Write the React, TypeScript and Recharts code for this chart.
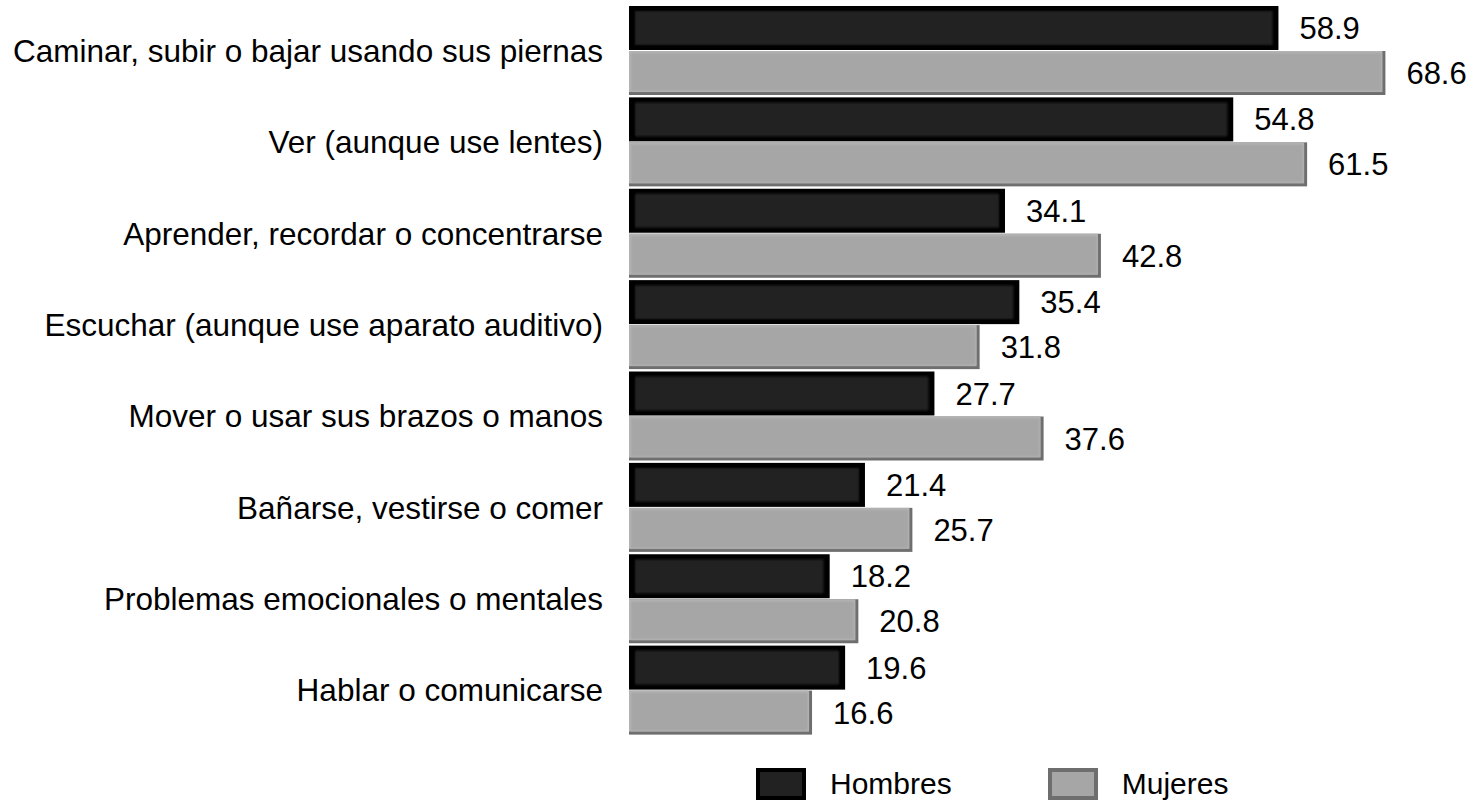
import { BarChart, Bar, XAxis, YAxis, Legend, LabelList } from 'recharts';

const categories = [
  'Caminar, subir o bajar usando sus piernas',
  'Ver (aunque use lentes)',
  'Aprender, recordar o concentrarse',
  'Escuchar (aunque use aparato auditivo)',
  'Mover o usar sus brazos o manos',
  'Bañarse, vestirse o comer',
  'Problemas emocionales o mentales',
  'Hablar o comunicarse',
];
const hombres = [58.9, 54.8, 34.1, 35.4, 27.7, 21.4, 18.2, 19.6];
const mujeres = [68.6, 61.5, 42.8, 31.8, 37.6, 25.7, 20.8, 16.6];

const seriesNames = ['Hombres', 'Mujeres'];
const seriesColors = ['#222222', '#a6a6a6'];

const data = categories.map((name, i) => ({
  name,
  Hombres: hombres[i],
  Mujeres: mujeres[i],
}));

const FONT = 'Liberation Sans, Arial, sans-serif';

// barra negra con borde oscuro
function DarkBar(props: any) {
  const { x, y, width, height } = props;
  if (!width || width <= 0) return null;
  return (
    <g>
      <rect x={x} y={y} width={width} height={height} fill="#000" />
      <rect x={x + 6} y={y + 5} width={Math.max(width - 12, 0)} height={height - 10} fill="#222" filter="url(#soft)" />
    </g>
  );
}

// barra gris con sombra abajo/derecha
function GrayBar(props: any) {
  const { x, y, width, height } = props;
  if (!width || width <= 0) return null;
  return (
    <g>
      <rect x={x} y={y} width={width} height={height} fill="#6e6e6e" />
      <rect x={x} y={y} width={width - 3} height={height - 3} fill="#b4b4b4" />
      <rect x={x + 2} y={y + 2} width={Math.max(width - 6, 0)} height={height - 6} fill="#a6a6a6" filter="url(#soft)" />
    </g>
  );
}

function LegendContent() {
  return (
    <div
      style={{
        display: 'flex',
        alignItems: 'center',
        boxSizing: 'border-box',
        height: 72,
        paddingTop: 30,
        paddingBottom: 6,
        paddingLeft: 756,
        fontFamily: FONT,
        fontSize: 30,
      }}
    >
      {seriesNames.map((n, i) => (
        <div key={n} style={{ display: 'flex', alignItems: 'center', marginRight: i === 0 ? 96 : 0 }}>
          <svg width={50} height={32} style={{ marginRight: 24 }}>
            <rect x={0} y={0} width={50} height={32} fill={i === 0 ? '#000' : '#6e6e6e'} />
            <rect x={4} y={4} width={42} height={24} fill={seriesColors[i]} />
          </svg>
          <span>{n}</span>
        </div>
      ))}
    </div>
  );
}

export default function App() {
  return (
    <div style={{ position: 'absolute', left: 0, top: 0, width: 1473, height: 808, background: '#fff' }}>
      <BarChart
        width={1473}
        height={808}
        data={data}
        layout="vertical"
        margin={{ top: 5, right: 6, left: 0, bottom: 0 }}
        barSize={44}
        barGap={1}
      >
        <defs>
          <filter id="soft" x="-5%" y="-20%" width="110%" height="140%">
            <feGaussianBlur stdDeviation="1.2" />
          </filter>
        </defs>
        <XAxis type="number" domain={[0, 76]} hide />
        <YAxis
          type="category"
          dataKey="name"
          width={629}
          axisLine={false}
          tickLine={false}
          tickSize={0}
          tickMargin={26}
          tick={{ fill: '#000', fontSize: 31.5, fontFamily: FONT }}
        />
        <Legend verticalAlign="bottom" align="left" content={<LegendContent />} wrapperStyle={{ left: 0 }} />
        <Bar dataKey="Hombres" fill={seriesColors[0]} shape={<DarkBar />} isAnimationActive={false}>
          <LabelList dataKey="Hombres" position="right" offset={21} fill="#000" fontSize={31} fontFamily={FONT} />
        </Bar>
        <Bar dataKey="Mujeres" fill={seriesColors[1]} shape={<GrayBar />} isAnimationActive={false}>
          <LabelList dataKey="Mujeres" position="right" offset={21} fill="#000" fontSize={31} fontFamily={FONT} />
        </Bar>
      </BarChart>
    </div>
  );
}
